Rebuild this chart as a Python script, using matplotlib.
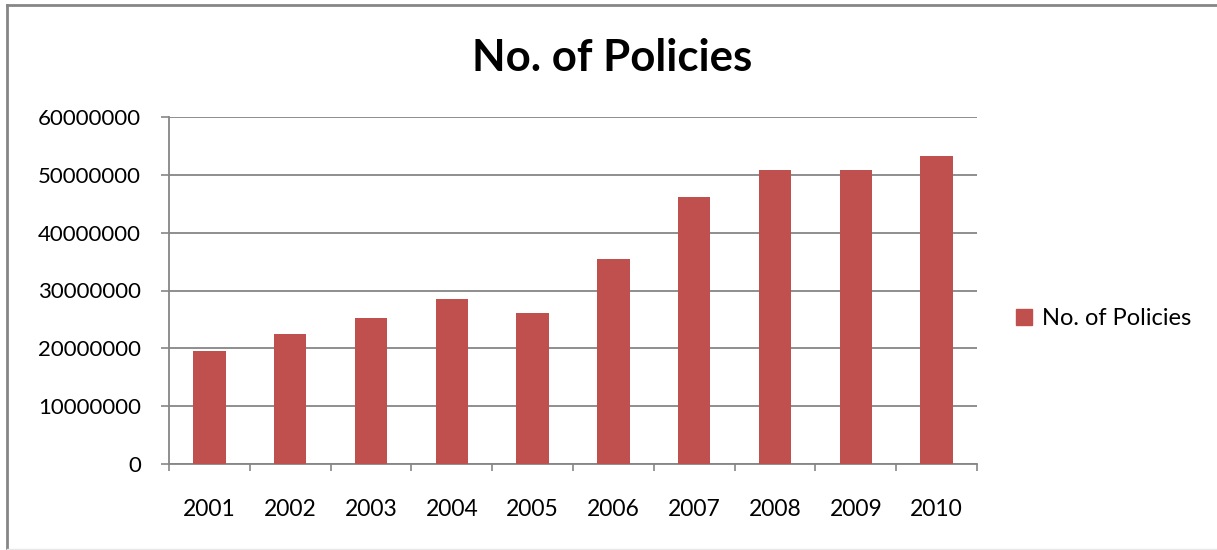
import matplotlib
matplotlib.use('Agg')
import matplotlib.pyplot as plt
from matplotlib.lines import Line2D
from matplotlib.patches import Patch

years = ['2001', '2002', '2003', '2004', '2005', '2006', '2007', '2008', '2009', '2010']
policies = [19600000, 22500000, 25300000, 28600000, 26100000,
            35400000, 46200000, 50900000, 50900000, 53200000]
yticks = [0, 10000000, 20000000, 30000000, 40000000, 50000000, 60000000]

BAR = '#C0504D'
GRID = '#868686'

plt.rcParams['font.family'] = ['Lato', 'DejaVu Sans']

fig = plt.figure(figsize=(12.17, 5.5), dpi=100)
ax = fig.add_axes([169 / 1217, 1 - 464 / 550, (977 - 169) / 1217, (464 - 117) / 550])

x = list(range(len(years)))
ax.bar(x, policies, width=0.4, color=BAR, zorder=3)

ax.set_xlim(-0.5, len(years) - 0.5)
ax.set_ylim(0, 60000000)
ax.set_yticks(yticks)
ax.set_yticklabels([str(v) for v in yticks])
ax.set_xticks(x)
ax.set_xticklabels(years)
ax.set_xticks([i - 0.5 for i in range(len(years) + 1)], minor=True)

ax.tick_params(axis='x', which='major', length=0, pad=25, labelsize=16.5, colors='black')
ax.tick_params(axis='x', which='minor', length=5, width=1.2, color=GRID, direction='out')
ax.tick_params(axis='y', length=6, width=1.2, color=GRID, labelsize=16, pad=14)

ax.yaxis.grid(True, color=GRID, linewidth=1.3, zorder=0)
ax.set_axisbelow(True)
for s in ['top', 'right']:
    ax.spines[s].set_visible(False)
for s in ['left', 'bottom']:
    ax.spines[s].set_color(GRID)
    ax.spines[s].set_linewidth(1.3)

fig.text(612 / 1217, 1 - 58 / 550, 'No. of Policies', ha='center', va='center',
         fontsize=31.5, fontweight='bold')

fig.legend(handles=[Patch(color=BAR, label='No. of Policies')],
           loc='center left', bbox_to_anchor=(995 / 1217, 1 - 319 / 550),
           frameon=False, fontsize=17, handlelength=0.65, handleheight=0.65,
           handletextpad=0.45)

# chart area border: left and top lines, faint bottom
fig.add_artist(Line2D([7 / 1217, 7 / 1217], [0, 1 - 5 / 550], transform=fig.transFigure,
                      color=GRID, linewidth=2))
fig.add_artist(Line2D([7 / 1217, 1], [1 - 5 / 550, 1 - 5 / 550], transform=fig.transFigure,
                      color=GRID, linewidth=2))
fig.add_artist(Line2D([7 / 1217, 1], [1 / 550, 1 / 550], transform=fig.transFigure,
                      color='#E8E8E8', linewidth=1))

fig.savefig('out.png', dpi=100)
